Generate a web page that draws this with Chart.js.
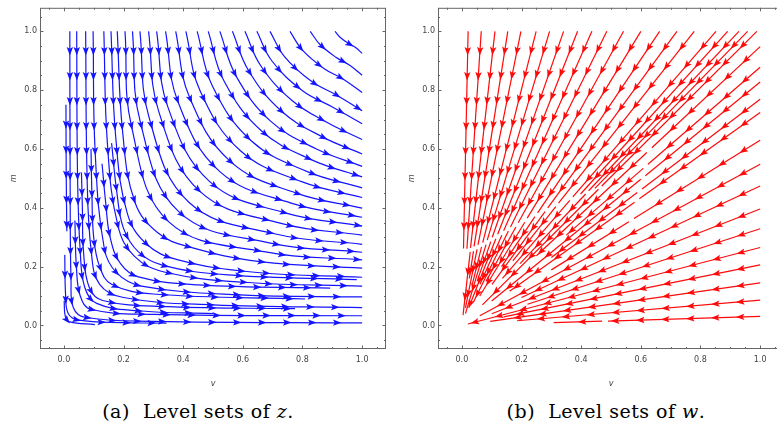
<!DOCTYPE html>
<html>
<head>
<meta charset="utf-8">
<script src="https://cdn.jsdelivr.net/npm/chart.js@4.4.1/dist/chart.umd.min.js"></script>
<style>
  html, body { margin: 0; padding: 0; width: 777px; height: 425px; overflow: hidden; background: #fff; }
  .panel { position: absolute; top: 0; width: 390px; height: 393px; }
  #panelZ { left: 0; }
  #panelW { left: 397.5px; }
  .caption {
    position: absolute; top: 400px; width: 300px; text-align: center;
    font-family: "DejaVu Serif", "Liberation Serif", serif;
    font-size: 19px; letter-spacing: 0.5px; color: #000; white-space: pre;
  }
  #capZ { left: 48px; }
  #capW { left: 456px; }
</style>
</head>
<body>
<div class="panel" id="panelZ"><canvas id="chartZ"></canvas></div>
<div class="panel" id="panelW"><canvas id="chartW"></canvas></div>
<div class="caption" id="capZ">(a)  Level sets of <i>z</i>.</div>
<div class="caption" id="capW">(b)  Level sets of <i>w</i>.</div>
<script>
// tick labels on both axes
const vTicks = [0, 0.2, 0.4, 0.6, 0.8, 1.0];
const mTicks = [0, 0.2, 0.4, 0.6, 0.8, 1.0];

// streamlines of the z field, [v, m] points in flow direction
const zLines = [
  [[0.909,1],[0.928,0.978],[0.957,0.957],[0.978,0.945],[1,0.925]],
  [[0.826,1],[0.858,0.956],[0.912,0.912],[0.956,0.886],[1,0.851]],
  [[0.758,1],[0.799,0.937],[0.873,0.873],[0.937,0.837],[1,0.792]],
  [[0.691,1],[0.739,0.915],[0.830,0.830],[0.915,0.783],[1,0.730]],
  [[0.647,1],[0.697,0.900],[0.799,0.799],[0.900,0.743],[1,0.686]],
  [[0.607,1],[0.660,0.883],[0.765,0.765],[0.883,0.690],[1,0.632]],
  [[0.565,1],[0.620,0.865],[0.729,0.729],[0.865,0.642],[1,0.583]],
  [[0.523,1],[0.578,0.847],[0.694,0.694],[0.847,0.600],[1,0.541]],
  [[0.484,1],[0.537,0.831],[0.662,0.662],[0.831,0.563],[1,0.505]],
  [[0.447,1],[0.498,0.814],[0.628,0.628],[0.814,0.524],[1,0.468]],
  [[0.409,1],[0.457,0.797],[0.593,0.593],[0.797,0.489],[1,0.435]],
  [[0.375,1],[0.420,0.779],[0.558,0.558],[0.779,0.450],[1,0.399]],
  [[0.341,1],[0.382,0.762],[0.523,0.523],[0.762,0.416],[1,0.368]],
  [[0.311,1],[0.348,0.745],[0.489,0.489],[0.745,0.382],[1,0.338]],
  [[0.284,1],[0.318,0.728],[0.456,0.456],[0.728,0.347],[1,0.307]],
  [[0.255,1],[0.285,0.710],[0.419,0.419],[0.710,0.311],[1,0.276]],
  [[0.230,1],[0.256,0.693],[0.386,0.386],[0.693,0.280],[1,0.249]],
  [[0.205,1],[0.227,0.676],[0.352,0.352],[0.676,0.250],[1,0.223]],
  [[0.179,1],[0.197,0.658],[0.238,0.42],[0.315,0.315],[0.42,0.267],[0.658,0.217],[1,0.195]],
  [[0.16,0.62],[0.178,0.45],[0.2,0.33],[0.25,0.25],[0.33,0.205],[0.55,0.172],[0.982,0.156]],
  [[0.158,1],[0.174,0.639],[0.213,0.38],[0.277,0.277],[0.38,0.224],[0.639,0.181],[1,0.164]],
  [[0.134,1],[0.146,0.618],[0.181,0.34],[0.236,0.236],[0.34,0.181],[0.618,0.146],[1,0.134]],
  [[0.128,0.55],[0.14,0.42],[0.155,0.3],[0.19,0.21],[0.25,0.165],[0.45,0.138],[0.893,0.127]],
  [[0.098,1],[0.105,0.589],[0.136,0.26],[0.178,0.178],[0.26,0.134],[0.589,0.104],[1,0.097]],
  [[0.091,0.6],[0.094,0.45],[0.1,0.3],[0.12,0.2],[0.16,0.14],[0.3,0.107],[0.809,0.09]],
  [[0.073,1],[0.078,0.5],[0.092,0.25],[0.12,0.14],[0.2,0.095],[0.5,0.07],[1,0.061]],
  [[0.059,0.52],[0.062,0.4],[0.066,0.25],[0.085,0.13],[0.13,0.085],[0.35,0.064],[0.775,0.057]],
  [[0.043,1],[0.046,0.5],[0.055,0.25],[0.07,0.13],[0.11,0.075],[0.25,0.05],[0.5,0.04]],
  [[0.037,0.357],[0.042,0.2],[0.055,0.1],[0.09,0.055],[0.3,0.038],[1,0.033]],
  [[0.02,1],[0.021,0.5],[0.024,0.15],[0.032,0.06],[0.07,0.028],[0.3,0.014],[1,0.009]],
  [[0.007,0.75],[0.008,0.5],[0.01,0.32]],
  [[0.003,0.24],[0.006,0.1],[0.015,0.04],[0.05,0.018],[0.2,0.01],[0.344,0.008]],
  [[0.001,0.084],[0.005,0.03],[0.02,0.012],[0.104,0.003]]
];

// streamline segments of the w field (straight, towards the origin): [start, end]
const wTopSegments = [
  [[0.021,1],[0.0055,0.262]],
  [[0.065,1],[0.017,0.261]],
  [[0.111,1],[0.029,0.264]], [[0.028,0.25],[0.004,0.035]],
  [[0.154,1],[0.041,0.269]], [[0.039,0.253],[0.025,0.16]],
  [[0.198,1],[0.054,0.274]], [[0.051,0.259],[0.012,0.06]],
  [[0.249,1],[0.070,0.282]], [[0.066,0.267],[0.035,0.14]],
  [[0.294,1],[0.085,0.29]], [[0.081,0.275],[0.012,0.04]],
  [[0.341,1],[0.102,0.30]], [[0.097,0.285],[0.051,0.15]],
  [[0.388,1],[0.120,0.31]], [[0.114,0.295],[0.023,0.06]],
  [[0.436,1],[0.140,0.322]], [[0.134,0.307],[0.061,0.14]],
  [[0.486,1],[0.163,0.335]], [[0.156,0.321],[0.039,0.08]],
  [[0.542,1],[0.189,0.349]], [[0.181,0.335],[0.081,0.15]],
  [[0.600,1],[0.219,0.365]], [[0.211,0.351],[0.06,0.1]],
  [[0.663,1],[0.254,0.383]], [[0.245,0.37],[0.133,0.2]],
  [[0.721,1],[0.288,0.40]], [[0.279,0.387],[0.101,0.14]],
  [[0.779,1],[0.324,0.416]], [[0.315,0.404],[0.171,0.22]],
  [[0.852,1],[0.372,0.437]], [[0.362,0.425],[0.136,0.16]],
  [[0.891,1],[0.398,0.447]],
  [[0.929,1],[0.425,0.458]], [[0.415,0.447],[0.195,0.21]],
  [[0.958,1],[0.446,0.466]],
  [[0.989,1],[0.469,0.474]], [[0.458,0.463],[0.069,0.07]]
];
const wRightSegments = [
  [[1,0.948],[0.637,0.604]], [[0.62,0.588],[0.25,0.237]],
  [[1,0.878],[0.624,0.548]], [[0.608,0.534],[0.35,0.307]],
  [[1,0.828],[0.615,0.509]], [[0.6,0.497],[0.1,0.083]],
  [[1,0.769],[0.604,0.464]], [[0.588,0.452],[0.3,0.231]],
  [[1,0.724],[0.595,0.431]], [[0.579,0.419],[0.16,0.116]],
  [[1,0.630],[0.577,0.364]], [[0.56,0.353],[0.3,0.189]],
  [[1,0.548],[0.06,0.033]],
  [[1,0.474],[0.2,0.095]],
  [[1,0.396],[0.1,0.04]],
  [[1,0.329],[0.22,0.072]],
  [[1,0.265],[0.02,0.005]],
  [[1,0.206],[0.14,0.029]],
  [[1,0.145],[0.095,0.014]],
  [[1,0.086],[0.185,0.016]],
  [[1,0.031],[0.49,0.015]], [[0.47,0.0146],[0.308,0.0095]]
];

const AXIS_MIN = -0.08, AXIS_MAX = 1.08;
const FRAME = '#666';
const LABEL = '#444';

// arrowheads spaced along each drawn streamline (uses Chart.js bezier control points)
const arrowPlugin = {
  id: 'streamArrows',
  afterDatasetsDraw(chart) {
    const ctx = chart.ctx;
    chart.data.datasets.forEach((ds, i) => {
      const pts = chart.getDatasetMeta(i).data;
      const path = [[pts[0].x, pts[0].y]];
      for (let k = 1; k < pts.length; k++) {
        const a = pts[k - 1], b = pts[k];
        if (ds.tension > 0 && a.cp2x !== undefined) {
          for (let t = 1; t <= 20; t++) {
            const s = t / 20, u = 1 - s;
            path.push([
              u*u*u*a.x + 3*u*u*s*a.cp2x + 3*u*s*s*b.cp1x + s*s*s*b.x,
              u*u*u*a.y + 3*u*u*s*a.cp2y + 3*u*s*s*b.cp1y + s*s*s*b.y
            ]);
          }
        } else {
          path.push([b.x, b.y]);
        }
      }
      const cum = [0];
      for (let k = 1; k < path.length; k++) {
        cum.push(cum[k - 1] + Math.hypot(path[k][0] - path[k-1][0], path[k][1] - path[k-1][1]));
      }
      const total = cum[cum.length - 1];
      ctx.save();
      ctx.fillStyle = ds.borderColor;
      for (let s = 20; s < total - 4; s += 25) {
        let k = 1;
        while (k < cum.length - 1 && cum[k] < s) k++;
        const seg = cum[k] - cum[k - 1] || 1;
        const f = (s - cum[k - 1]) / seg;
        const px = path[k-1][0] + f * (path[k][0] - path[k-1][0]);
        const py = path[k-1][1] + f * (path[k][1] - path[k-1][1]);
        let dx = path[k][0] - path[k-1][0], dy = path[k][1] - path[k-1][1];
        const d = Math.hypot(dx, dy) || 1;
        dx /= d; dy /= d;
        const len = 8.5, hw = 3.2;
        ctx.beginPath();
        ctx.moveTo(px + dx * len / 2, py + dy * len / 2);
        ctx.lineTo(px - dx * len / 2 - dy * hw, py - dy * len / 2 + dx * hw);
        ctx.lineTo(px - dx * len * 0.3, py - dy * len * 0.3);
        ctx.lineTo(px - dx * len / 2 + dy * hw, py - dy * len / 2 - dx * hw);
        ctx.closePath();
        ctx.fill();
      }
      ctx.restore();
    });
  }
};

// Mathematica-style frame with inward ticks on all four sides
const framePlugin = {
  id: 'frameTicks',
  afterDraw(chart) {
    const { ctx, chartArea: a, scales: { x, y } } = chart;
    ctx.save();
    ctx.strokeStyle = FRAME;
    ctx.lineWidth = 1;
    ctx.strokeRect(a.left + 0.5, a.top + 0.5, a.right - a.left - 1, a.bottom - a.top - 1);
    for (let t = -0.05; t < 1.06; t += 0.05) {
      const val = Math.round(t * 100) / 100;
      const major = Math.abs(val * 5 - Math.round(val * 5)) < 1e-6;
      const L = major ? 3.5 : 2;
      const px = Math.round(x.getPixelForValue(val)) + 0.5;
      const py = Math.round(y.getPixelForValue(val)) + 0.5;
      ctx.beginPath();
      ctx.moveTo(px, a.bottom); ctx.lineTo(px, a.bottom - L);
      ctx.moveTo(px, a.top); ctx.lineTo(px, a.top + L);
      ctx.moveTo(a.left, py); ctx.lineTo(a.left + L, py);
      ctx.moveTo(a.right, py); ctx.lineTo(a.right - L, py);
      ctx.stroke();
    }
    ctx.restore();
  }
};

function makeChart(id, lines, color, tension) {
  const datasets = lines.map(line => ({
    data: line.map(([v, m]) => ({ x: v, y: m })),
    showLine: true,
    borderColor: color,
    borderWidth: 1.2,
    pointRadius: 0,
    tension: tension,
    fill: false
  }));
  return new Chart(document.getElementById(id), {
    type: 'scatter',
    data: { datasets },
    plugins: [arrowPlugin, framePlugin],
    options: {
      responsive: true,
      maintainAspectRatio: false,
      animation: false,
      layout: { padding: { left: 0, right: 4, top: 2, bottom: 0 } },
      plugins: { legend: { display: false }, tooltip: { enabled: false } },
      scales: {
        x: {
          type: 'linear', min: AXIS_MIN, max: AXIS_MAX,
          afterBuildTicks: s => { s.ticks = vTicks.map(v => ({ value: v })); },
          afterFit: s => { s.height = 44; },
          grid: { display: false, drawTicks: false },
          border: { display: false },
          ticks: { padding: 6, color: LABEL, font: { family: 'DejaVu Sans', size: 8 },
                   maxRotation: 0, callback: v => v.toFixed(1) },
          title: { display: true, text: 'v', color: LABEL, padding: { top: 0, bottom: 4 },
                   font: { family: 'DejaVu Sans', size: 8, style: 'italic' } }
        },
        y: {
          type: 'linear', min: AXIS_MIN, max: AXIS_MAX,
          afterBuildTicks: s => { s.ticks = mTicks.map(v => ({ value: v })); },
          afterFit: s => { s.width = 40; },
          grid: { display: false, drawTicks: false },
          border: { display: false },
          ticks: { padding: 3, color: LABEL, font: { family: 'DejaVu Sans', size: 8 },
                   callback: v => v.toFixed(1) },
          title: { display: true, text: 'm', color: LABEL, padding: { top: 9, bottom: 0 },
                   font: { family: 'DejaVu Sans', size: 8, style: 'italic' } }
        }
      }
    }
  });
}

makeChart('chartZ', zLines, 'rgb(20,20,255)', 0.4);
makeChart('chartW', wTopSegments.concat(wRightSegments), 'rgb(255,10,10)', 0);
</script>
</body>
</html>
